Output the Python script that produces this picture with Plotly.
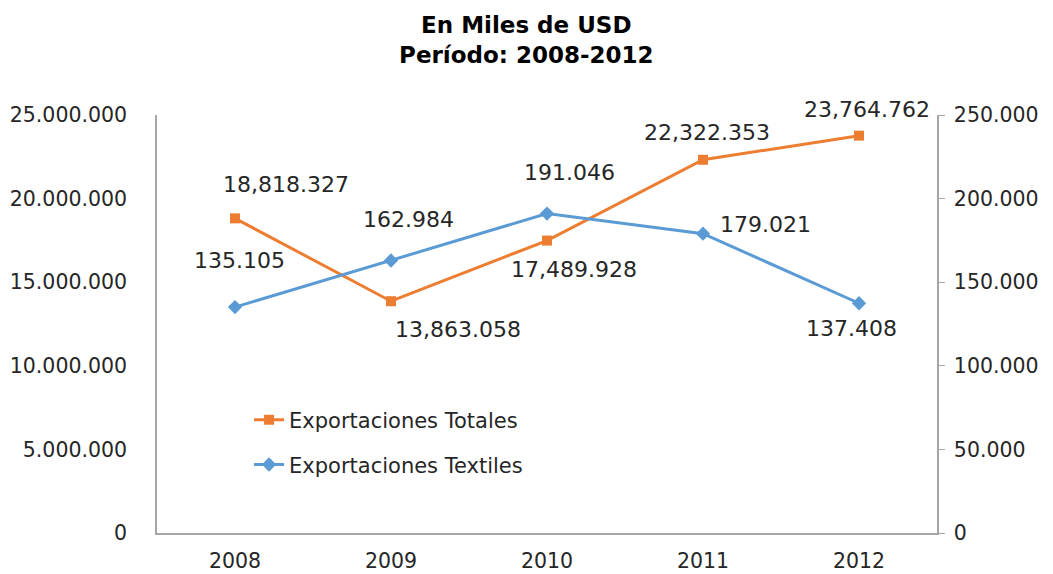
import plotly.graph_objects as go

years = ["2008", "2009", "2010", "2011", "2012"]
totales = [18818327, 13863058, 17489928, 22322353, 23764762]
textiles = [135105, 162984, 191046, 179021, 137408]
totales_labels = ["18,818.327", "13,863.058", "17,489.928", "22,322.353", "23,764.762"]
textiles_labels = ["135.105", "162.984", "191.046", "179.021", "137.408"]
left_ticks = [0, 5000000, 10000000, 15000000, 20000000, 25000000]
left_ticktext = ["0", "5.000.000", "10.000.000", "15.000.000", "20.000.000", "25.000.000"]
right_ticks = [0, 50000, 100000, 150000, 200000, 250000]
right_ticktext = ["0", "50.000", "100.000", "150.000", "200.000", "250.000"]

ORANGE = "#ED7D31"
BLUE = "#5B9BD5"
FONT = "DejaVu Sans"
TXT = "#262626"
AXIS = "#A6A6A6"

# label offsets (pixels) relative to each point
tot_off = [(51, 34), (67, -28), (27, -29), (4, 27), (8, 26)]
tex_off = [(4, 47), (17, 41), (22, 41), (62, 9), (-8, -25)]

fig = go.Figure()
fig.add_trace(go.Scatter(x=years, y=totales, name="Exportaciones Totales", mode="lines+markers",
                         line=dict(color=ORANGE, width=3),
                         marker=dict(symbol="square", size=10, color=ORANGE),
                         yaxis="y", legend="legend"))
fig.add_trace(go.Scatter(x=years, y=textiles, name="Exportaciones Textiles", mode="lines+markers",
                         line=dict(color=BLUE, width=3),
                         marker=dict(symbol="diamond", size=11, color=BLUE),
                         yaxis="y2", legend="legend2"))

annotations = []
for i in range(len(years)):
    annotations.append(dict(x=i, y=totales[i], xref="x", yref="y", text=totales_labels[i],
                            showarrow=False, xanchor="center", yanchor="middle",
                            xshift=tot_off[i][0], yshift=tot_off[i][1],
                            font=dict(family=FONT, size=22, color=TXT)))
    annotations.append(dict(x=i, y=textiles[i], xref="x", yref="y2", text=textiles_labels[i],
                            showarrow=False, xanchor="center", yanchor="middle",
                            xshift=tex_off[i][0], yshift=tex_off[i][1],
                            font=dict(family=FONT, size=22, color=TXT)))

fig.update_layout(
    width=1045, height=566,
    margin=dict(l=149, r=116, t=107, b=41),
    paper_bgcolor="white", plot_bgcolor="white",
    title=dict(text="<b>En Miles de USD<br>Período: 2008-2012</b>", x=0.496, xref="container",
               xanchor="center", y=0.956, yref="container", yanchor="middle",
               font=dict(family="DejaVu Sans", size=23, color="#000")),
    xaxis=dict(type="category", range=[-0.5, 4.5], showline=True, linecolor=AXIS, linewidth=1.5,
               ticks="", showgrid=False, automargin=False,
               tickfont=dict(family=FONT, size=20.5, color=TXT), ticklabelstandoff=9),
    yaxis=dict(range=[0, 25000000], tickvals=left_ticks, ticktext=left_ticktext, showline=True,
               linecolor=AXIS, linewidth=1.5, ticks="", showgrid=False, zeroline=False,
               automargin=False,
               tickfont=dict(family=FONT, size=20.5, color=TXT), ticklabelstandoff=24),
    yaxis2=dict(range=[0, 250000], tickvals=right_ticks, ticktext=right_ticktext, overlaying="y",
                side="right", showline=True, linecolor=AXIS, linewidth=1.5, ticks="outside",
                ticklen=6, tickcolor=AXIS, showgrid=False, zeroline=False, automargin=False,
                tickfont=dict(family=FONT, size=20.5, color=TXT), ticklabelstandoff=5),
    legend=dict(x=0.118, y=0.27, xanchor="left", yanchor="middle", bgcolor="rgba(0,0,0,0)",
                font=dict(family=FONT, size=21, color=TXT)),
    legend2=dict(x=0.118, y=0.163, xanchor="left", yanchor="middle", bgcolor="rgba(0,0,0,0)",
                 font=dict(family=FONT, size=21, color=TXT)),
    annotations=annotations,
    showlegend=True,
)

fig.write_html("out.html")
